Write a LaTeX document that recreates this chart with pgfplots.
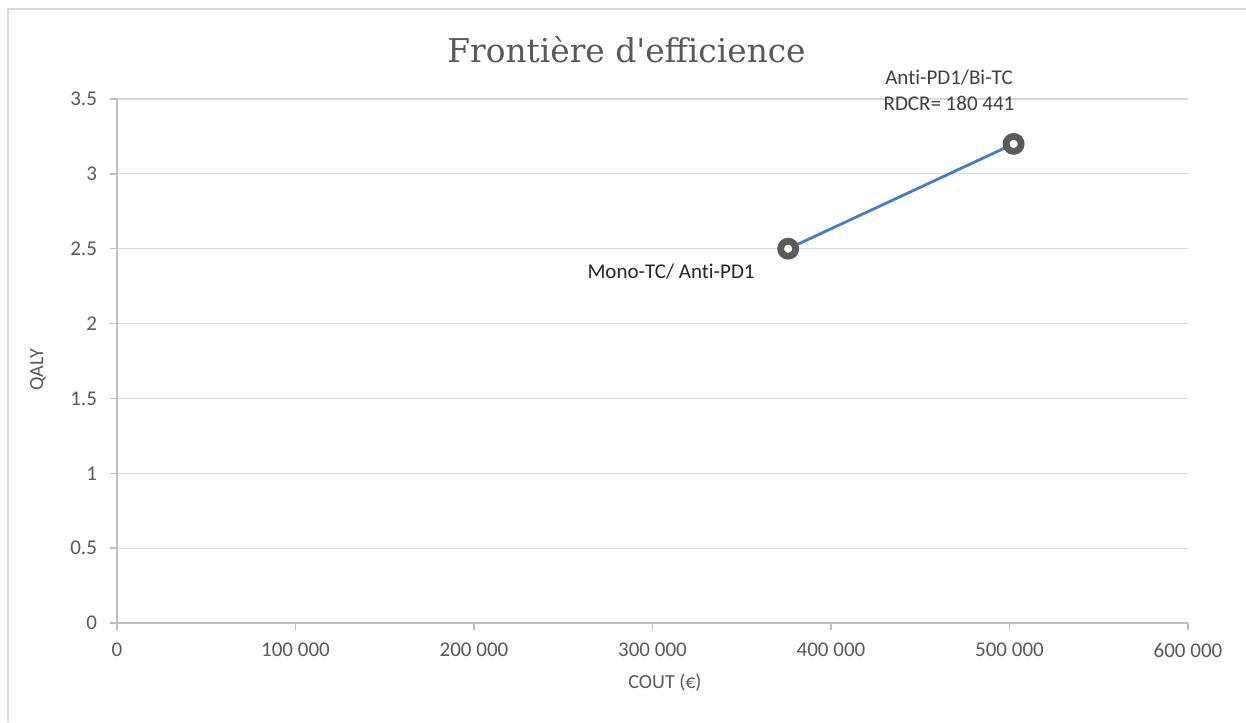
\documentclass[border=0pt]{standalone}
\usepackage{pgfplots}
\pgfplotsset{compat=1.18}
\usepackage{fontspec}
\setmainfont[Ligatures={TeX,NoCommon}]{Carlito}
\newfontfamily\titlefont{DejaVu Serif}
\definecolor{ticktext}{HTML}{595959}
\definecolor{axisgray}{HTML}{BFBFBF}
\definecolor{gridgray}{HTML}{D9D9D9}
\definecolor{framegray}{HTML}{D9D9D9}
\definecolor{lineblue}{HTML}{4A7BC4}
\definecolor{markgray}{HTML}{5A5A5A}

\begin{document}
\begin{tikzpicture}
\useasboundingbox (0,0) rectangle (623pt,361pt);
\draw[framegray, line width=1pt] (4pt,0) -- (4pt,356.5pt) -- (623pt,356.5pt);

\begin{axis}[
at={(58.5pt,49.5pt)}, anchor=south west,
scale only axis, width=535.5pt, height=262pt,
xmin=0, xmax=600000, ymin=0, ymax=3.5,
xtick={0,100000,200000,300000,400000,500000,600000},
ytick={0,0.5,1,1.5,2,2.5,3,3.5},
scaled ticks=false,
axis x line*=bottom, axis y line*=left,
axis line style={axisgray, line width=0.75pt},
tick align=outside, major tick length=3.5pt,
tick style={axisgray, line width=0.75pt},
ymajorgrids, grid style={gridgray, line width=0.6pt},
ticklabel style={font=\fontsize{10.5}{12}\selectfont, text=ticktext},
/pgf/number format/assume math mode=true,
xticklabel style={yshift=-3pt, /pgf/number format/.cd, fixed, 1000 sep={\ }},
yticklabel style={xshift=-3pt, /pgf/number format/.cd, fixed},
clip=false,
]
\addplot[lineblue, line width=1.4pt, mark=*, mark size=3.75pt,
  mark options={draw=markgray, fill=white, line width=3.4pt}]
coordinates {(376000,2.5) (502309,3.2)};

\node[font=\fontsize{10.5}{12}\selectfont, text=black!85] at (axis cs:310400,2.344) {Mono-TC/ Anti-PD1};
\node[font=\fontsize{10.5}{13}\selectfont, text=black!75, align=center] at (axis cs:466100,3.56) {Anti-PD1/Bi-TC\\RDCR= 180\ 441};
\end{axis}

\node[font=\titlefont\fontsize{16.4}{20}\selectfont, text=ticktext] at (313.25pt,336pt) {Frontière d\textquotesingle efficience};
\node[font=\fontsize{10}{12}\selectfont, text=ticktext] at (332.5pt,19.5pt) {COUT (€)};
\node[font=\fontsize{10}{12}\selectfont, text=ticktext, rotate=90] at (19pt,176pt) {QALY};
\end{tikzpicture}
\end{document}
